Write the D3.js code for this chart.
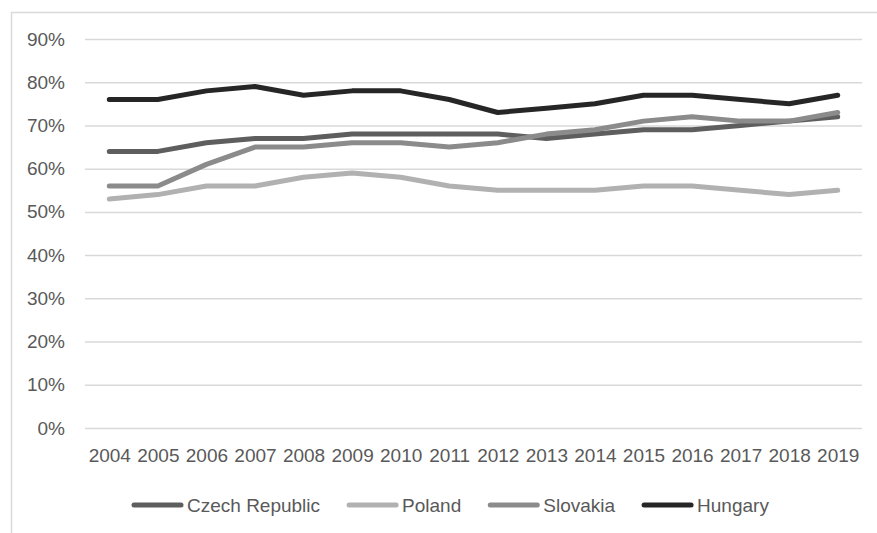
<!DOCTYPE html>
<html>
<head>
<meta charset="utf-8">
<script src="https://cdn.jsdelivr.net/npm/d3@7"></script>
<style>
  body { margin: 0; background: #fff; }
  text { font-family: 'Liberation Sans', Arial, sans-serif; fill: #595959; }
</style>
</head>
<body>
<script>
// data (share, 0-1)
var years = ['2004','2005','2006','2007','2008','2009','2010','2011','2012','2013','2014','2015','2016','2017','2018','2019'];
var czech    = [0.64,0.64,0.66,0.67,0.67,0.68,0.68,0.68,0.68,0.67,0.68,0.69,0.69,0.70,0.71,0.72];
var poland   = [0.53,0.54,0.56,0.56,0.58,0.59,0.58,0.56,0.55,0.55,0.55,0.56,0.56,0.55,0.54,0.55];
var slovakia = [0.56,0.56,0.61,0.65,0.65,0.66,0.66,0.65,0.66,0.68,0.69,0.71,0.72,0.71,0.71,0.73];
var hungary  = [0.76,0.76,0.78,0.79,0.77,0.78,0.78,0.76,0.73,0.74,0.75,0.77,0.77,0.76,0.75,0.77];
var yTicks = [0,0.1,0.2,0.3,0.4,0.5,0.6,0.7,0.8,0.9];

var series = [
	{ name: 'Czech Republic', values: czech, color: '#5e5e5e' },
	{ name: 'Poland', values: poland, color: '#b1b1b1' },
	{ name: 'Slovakia', values: slovakia, color: '#8b8b8b' },
	{ name: 'Hungary', values: hungary, color: '#262626' }
];

var margin = { top: 39, right: 15, bottom: 105, left: 85 };
var width = 862 - margin.left;
var height = 428 - margin.top;

var svg = d3.select('body').append('svg')
	.attr('width', 877)
	.attr('height', 533);

// chart border (cropped on right and bottom)
svg.append('rect')
	.attr('x', 11.5)
	.attr('y', 12.5)
	.attr('width', 950)
	.attr('height', 600)
	.attr('fill', 'none')
	.attr('stroke', '#d9d9d9')
	.attr('stroke-width', 1.5);

var g = svg.append('g')
	.attr('transform', `translate(${margin.left}, ${margin.top})`);

var xScale = d3.scalePoint().domain(years).range([0, width]).padding(0.5);
var yScale = d3.scaleLinear().domain([0, 0.9]).range([height, 0]);

// gridlines
g.append('g')
	.attr('class', 'grid')
	.call(d3.axisLeft(yScale).tickValues(yTicks).tickSize(-width).tickFormat(''))
	.call(function(s) {
		s.select('.domain').remove();
		s.selectAll('line').attr('stroke', '#d9d9d9').attr('stroke-width', 1.5);
	});

// y labels
g.append('g')
	.call(d3.axisLeft(yScale).tickValues(yTicks).tickSize(0).tickPadding(20).tickFormat(d3.format('.0%')))
	.call(function(s) {
		s.select('.domain').remove();
		s.selectAll('text').style('font-size', '19px').attr('fill', '#595959');
	});

// x labels
g.append('g')
	.attr('transform', `translate(0, ${height})`)
	.call(d3.axisBottom(xScale).tickSize(0).tickPadding(21))
	.call(function(s) {
		s.select('.domain').remove();
		s.selectAll('text').style('font-size', '19px').attr('fill', '#595959');
	});

var line = d3.line()
	.x(function(d, i) { return xScale(years[i]); })
	.y(function(d) { return yScale(d); });

g.selectAll('.series')
	.data(series)
	.enter().append('path')
	.attr('class', 'series')
	.attr('fill', 'none')
	.attr('stroke', function(d) { return d.color; })
	.attr('stroke-width', 5)
	.attr('stroke-linejoin', 'round')
	.attr('stroke-linecap', 'round')
	.attr('d', function(d) { return line(d.values); });

// legend
var legend = svg.append('g').attr('transform', 'translate(132, 505)');
var lx = 0;
series.forEach(function(s) {
	legend.append('line')
		.attr('x1', lx + 2)
		.attr('x2', lx + 49)
		.attr('stroke', s.color)
		.attr('stroke-width', 5)
		.attr('stroke-linecap', 'round');
	var t = legend.append('text')
		.attr('x', lx + 55)
		.attr('y', 7)
		.style('font-size', '19px')
		.text(s.name);
	lx += 55 + t.node().getComputedTextLength() + 27;
});
</script>
</body>
</html>
